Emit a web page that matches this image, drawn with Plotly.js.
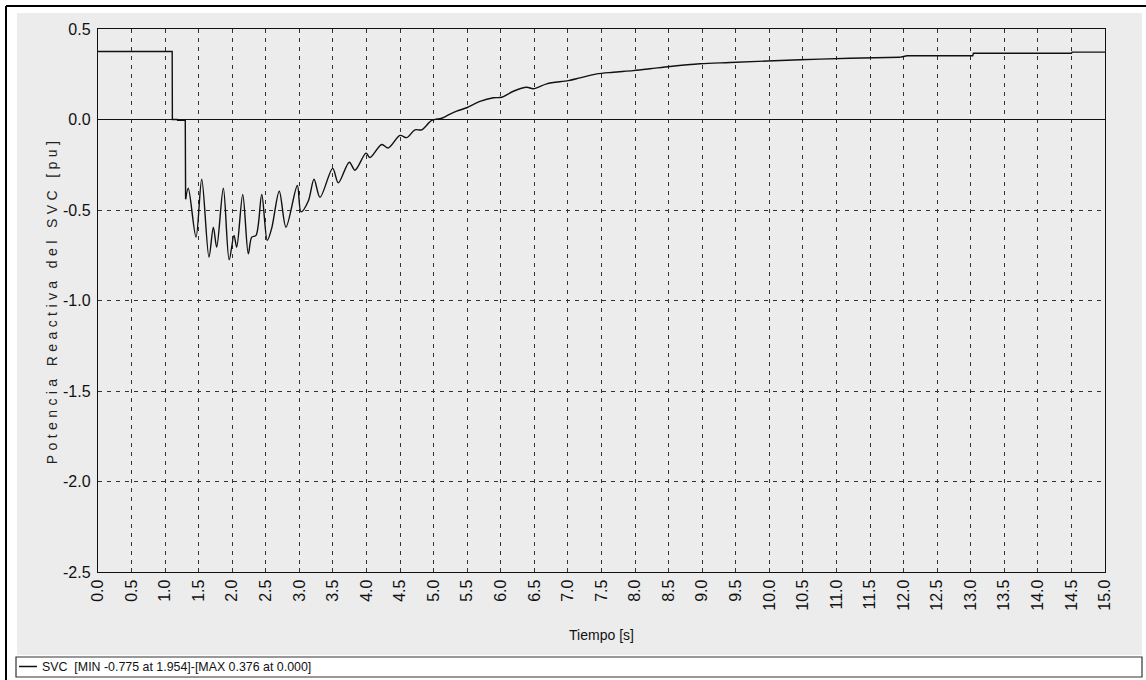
<!DOCTYPE html>
<html>
<head>
<meta charset="utf-8">
<script src="https://cdn.plot.ly/plotly-3.0.1.min.js"></script>
<style>
html,body{margin:0;padding:0;background:#fff;}
#chart{width:1146px;height:680px;}
.ytitle{letter-spacing:4.4px;}
.legend .legendlines path{stroke-dasharray:0 12 20 300 !important;}
</style>
</head>
<body>
<div id="chart"></div>
<script>
// Time [s]
const timeS = [0, 1.105, 1.108, 1.18, 1.185, 1.30, 1.305, 1.345, 1.46, 1.545, 1.653, 1.718, 1.768, 1.867, 1.954,
  2.026, 2.066, 2.156, 2.239, 2.29, 2.354, 2.439, 2.522, 2.588, 2.70, 2.80, 2.969, 3.024, 3.133, 3.218, 3.307,
  3.496, 3.58, 3.743, 3.828, 3.992, 4.052, 4.226, 4.324, 4.499, 4.599, 4.722, 4.822, 4.971, 5.12, 5.244, 5.343,
  5.492, 5.69, 5.889, 6.014, 6.187, 6.386, 6.485, 6.684, 7.006, 7.18, 7.429, 7.676, 7.974, 8.223, 8.521, 8.968,
  9.415, 10.46, 11.2, 11.95, 12.05, 13.03, 13.04, 14.5, 14.51, 15.0];
// Reactive power of the SVC [pu]
const qSVC = [0.376, 0.376, 0.0, 0.0, -0.005, -0.005, -0.44, -0.38, -0.65, -0.33, -0.76, -0.595, -0.705, -0.38, -0.775,
  -0.64, -0.705, -0.414, -0.742, -0.65, -0.64, -0.414, -0.668, -0.60, -0.396, -0.595, -0.365, -0.51, -0.45, -0.33, -0.43,
  -0.27, -0.35, -0.236, -0.28, -0.186, -0.21, -0.138, -0.157, -0.088, -0.10, -0.057, -0.057, -0.005, 0.007, 0.03, 0.046,
  0.065, 0.10, 0.12, 0.123, 0.156, 0.178, 0.17, 0.197, 0.215, 0.23, 0.252, 0.261, 0.27, 0.28, 0.293, 0.308,
  0.315, 0.33, 0.338, 0.344, 0.352, 0.352, 0.366, 0.366, 0.372, 0.372];

const seriesName = "SVC  [MIN -0.775 at 1.954]-[MAX 0.376 at 0.000]";
const xTickVals = [0,0.5,1,1.5,2,2.5,3,3.5,4,4.5,5,5.5,6,6.5,7,7.5,8,8.5,9,9.5,10,10.5,11,11.5,12,12.5,13,13.5,14,14.5,15];
const xTickText = ["0.0","0.5","1.0","1.5","2.0","2.5","3.0","3.5","4.0","4.5","5.0","5.5","6.0","6.5","7.0","7.5",
  "8.0","8.5","9.0","9.5","10.0","10.5","11.0","11.5","12.0","12.5","13.0","13.5","14.0","14.5","15.0"];
const yTickVals = [0.5, 0, -0.5, -1, -1.5, -2, -2.5];
const yTickText = ["0.5", "0.0", "-0.5", "-1.0", "-1.5", "-2.0", "-2.5"];

// pixel layout helpers
const W = 1146, H = 680;
const M = {l: 98, r: 41, t: 29, b: 108};
const PW = W - M.l - M.r, PH = H - M.t - M.b;
const px = x => (x - M.l) / PW;
const py = y => (H - M.b - y) / PH;

const panel = '#ececec';
const tickFont = {family: 'Liberation Sans, Arial', size: 16, color: '#111'};
const lineStyle = {color: '#111', width: 1.4};

// split the series: step parts drawn straight, the oscillating recovery drawn smooth
const iStart = timeS.indexOf(1.305);
const iEnd = timeS.indexOf(11.95);
const seg = (a, b) => ({x: timeS.slice(a, b + 1), y: qSVC.slice(a, b + 1)});
const s1 = seg(0, iStart), s2 = seg(iStart, iEnd), s3 = seg(iEnd, timeS.length - 1);

const traces = [
  {x: s1.x, y: s1.y, type: 'scatter', mode: 'lines', name: seriesName, legendgroup: 'svc',
   line: lineStyle},
  {x: s2.x, y: s2.y, type: 'scatter', mode: 'lines', name: seriesName, legendgroup: 'svc', showlegend: false,
   line: Object.assign({shape: 'spline', smoothing: 0.9}, lineStyle)},
  {x: s3.x, y: s3.y, type: 'scatter', mode: 'lines', name: seriesName, legendgroup: 'svc', showlegend: false,
   line: lineStyle}
];

const layout = {
  width: W, height: H,
  margin: {l: M.l, r: M.r, t: M.t, b: M.b, autoexpand: false},
  paper_bgcolor: '#ffffff',
  plot_bgcolor: panel,
  showlegend: true,
  legend: {
    x: px(2), y: py(667), xanchor: 'left', yanchor: 'middle',
    bgcolor: 'rgba(0,0,0,0)', borderwidth: 0,
    font: {family: 'Liberation Sans, Arial', size: 12.4, color: '#111'}
  },
  xaxis: {
    range: [0, 15], tickmode: 'array', tickvals: xTickVals, ticktext: xTickText,
    tickangle: -90, tickfont: tickFont, ticks: 'inside', ticklen: 4, tickcolor: '#333',
    showgrid: true, gridcolor: '#333', gridwidth: 1, griddash: '4px,5px',
    showline: true, linecolor: '#111', linewidth: 1.2, mirror: true, zeroline: false,
    title: {text: 'Tiempo [s]', font: {family: 'Liberation Sans, Arial', size: 14, color: '#111'}, standoff: 20}
  },
  yaxis: {
    range: [-2.5, 0.5], tickmode: 'array', tickvals: yTickVals, ticktext: yTickText,
    tickfont: tickFont, ticks: '', ticklabelstandoff: 3,
    showgrid: true, gridcolor: '#333', gridwidth: 1, griddash: '4px,5px',
    showline: true, linecolor: '#111', linewidth: 1.2, mirror: true,
    zeroline: true, zerolinecolor: '#111', zerolinewidth: 1.5,
    title: {text: 'Potencia Reactiva del SVC [pu]', font: {family: 'Liberation Sans, Arial', size: 14, color: '#222'}, standoff: 2}
  },
  shapes: [
    // grey panel
    {type: 'rect', xref: 'paper', yref: 'paper', x0: px(17), x1: px(1142), y0: py(655), y1: py(13),
     fillcolor: panel, line: {width: 0}, layer: 'below'},
    // outer frame (top and left)
    {type: 'line', xref: 'paper', yref: 'paper', x0: px(6), x1: px(1146), y0: py(6), y1: py(6),
     line: {color: '#000', width: 2}},
    {type: 'line', xref: 'paper', yref: 'paper', x0: px(6), x1: px(6), y0: py(6), y1: py(680),
     line: {color: '#000', width: 2}},
    // legend box
    {type: 'rect', xref: 'paper', yref: 'paper', x0: px(16), x1: px(1142), y0: py(677), y1: py(657),
     fillcolor: '#ffffff', line: {color: '#333', width: 1.2}, layer: 'below'}
  ]
};

Plotly.newPlot('chart', traces, layout, {displayModeBar: false, staticPlot: true});
</script>
</body>
</html>
